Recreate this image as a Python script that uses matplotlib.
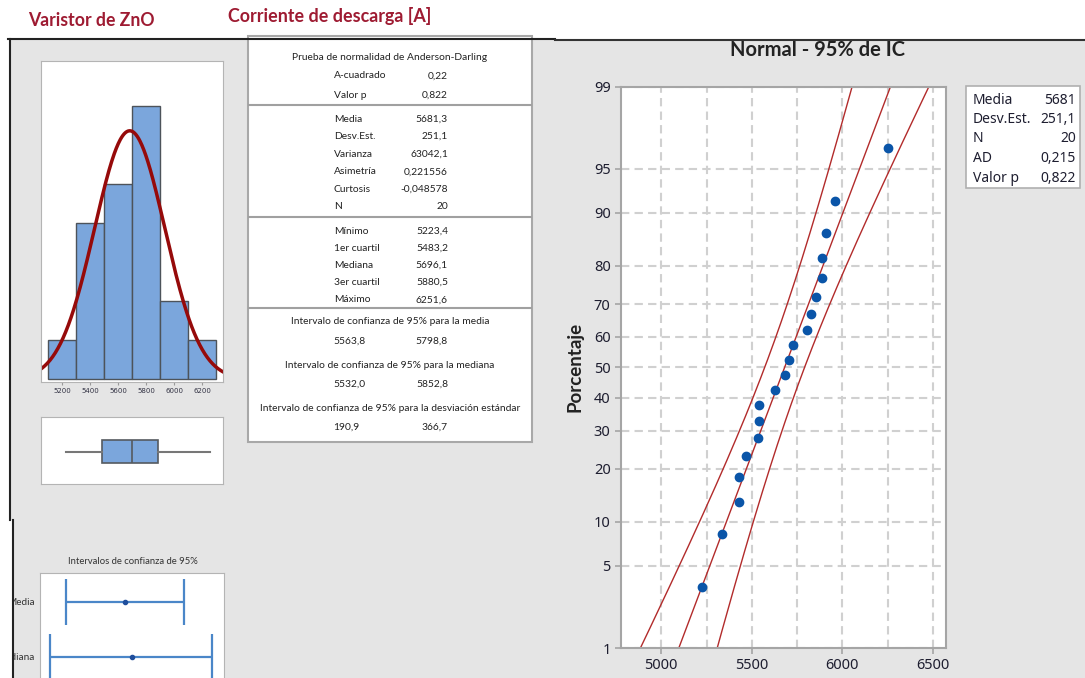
import numpy as np
import matplotlib
matplotlib.use("Agg")
import matplotlib.pyplot as plt
from matplotlib.patches import Rectangle
from matplotlib.lines import Line2D
from statistics import NormalDist

# ---------------- data ----------------
current = [5223.4, 5333, 5430, 5430, 5466, 5535, 5539, 5539, 5628, 5686,
           5706.2, 5727, 5805, 5826, 5856, 5888, 5888.7, 5908, 5960, 6251.6]
mean_val = 5681.3
sd_val = 251.1
bin_edges = [5100, 5300, 5500, 5700, 5900, 6100, 6300]
hist_ticks = [5200, 5400, 5600, 5800, 6000, 6200]
box_stats = dict(whislo=5223.4, q1=5483.2, med=5696.1, q3=5880.5, whishi=6251.6)
ci_labels = ["Media", "Mediana"]
ci_center = [5681.3, 5696.1]
ci_low = [5563.8, 5532.0]
ci_high = [5798.8, 5852.8]
prob_yticks = [1, 5, 10, 20, 30, 40, 50, 60, 70, 80, 90, 95, 99]
prob_xticks = [5000, 5500, 6000, 6500]
prob_xgrid = [5250, 5750, 6250]

ad_rows = [("A-cuadrado", "0,22"), ("Valor p", "0,822")]
desc_rows = [("Media", "5681,3"), ("Desv.Est.", "251,1"), ("Varianza", "63042,1"),
             ("Asimetría", "0,221556"), ("Curtosis", "-0,048578"), ("N", "20")]
quart_rows = [("Mínimo", "5223,4"), ("1er cuartil", "5483,2"), ("Mediana", "5696,1"),
              ("3er cuartil", "5880,5"), ("Máximo", "6251,6")]
ci_rows = [("Intervalo de confianza de 95% para la media", "5563,8", "5798,8"),
           ("Intervalo de confianza de 95% para la mediana", "5532,0", "5852,8"),
           ("Intervalo de confianza de 95% para la desviación estándar", "190,9", "366,7")]
legend_rows = [("Media", "5681"), ("Desv.Est.", "251,1"), ("N", "20"),
               ("AD", "0,215"), ("Valor p", "0,822")]

# ---------------- figure ----------------
W, H = 1085, 678
fig = plt.figure(figsize=(W / 100, H / 100), dpi=100)

def fx(x):
    return x / W

def fy(y):
    return 1 - y / H

def axes_px(x0, y0, x1, y1):
    return fig.add_axes([x0 / W, 1 - y1 / H, (x1 - x0) / W, (y1 - y0) / H])

GREY = "#e5e5e5"
RED_T = "#9e1b32"
TXT = "#222222"
SANS = ["Lato", "DejaVu Sans"]
NOTO = ["Noto Sans", "DejaVu Sans"]

# background panels
fig.add_artist(Rectangle((fx(10), 0), 1 - fx(10), fy(38.5), transform=fig.transFigure,
                         facecolor=GREY, edgecolor="none", zorder=-5))
fig.add_artist(Line2D([fx(8), fx(555)], [fy(38.5)] * 2, transform=fig.transFigure,
                      color="#222222", lw=1.5, zorder=11))
fig.add_artist(Line2D([fx(555), 1], [fy(40)] * 2, transform=fig.transFigure,
                      color="#333333", lw=1.5, zorder=11))
fig.add_artist(Line2D([fx(10)] * 2, [fy(38.5), fy(520)], transform=fig.transFigure,
                      color="#222222", lw=1.5, zorder=11))
fig.add_artist(Rectangle((0, 0), fx(12), fy(520), transform=fig.transFigure,
                         facecolor="white", edgecolor="none", zorder=10))
fig.add_artist(Line2D([fx(12.5)] * 2, [fy(520), 0], transform=fig.transFigure,
                      color="#222222", lw=1.5, zorder=11))

# titles
fig.text(fx(28), fy(21), "Varistor de ZnO", color=RED_T, fontsize=12.7, fontweight="bold",
         family=SANS, va="center", ha="left")
fig.text(fx(228), fy(16), "Corriente de descarga [A]", color=RED_T, fontsize=12.9,
         fontweight="bold", family=SANS, va="center", ha="left")

# ---------------- histogram ----------------
axh = axes_px(41, 61, 223, 382)
axh.hist(current, bins=bin_edges, color="#7ba6dc", edgecolor="#4d535a", linewidth=1.0)
xx = np.linspace(5000, 6400, 300)
pdf = [NormalDist(mean_val, sd_val).pdf(v) for v in xx]
axh.plot(xx, np.array(pdf) * len(current) * 200, color="#960a0a", lw=2.5)
axh.set_xlim(5048, 6347)
axh.set_ylim(-0.07, 8.14)
axh.set_xticks(hist_ticks)
axh.set_yticks([])
axh.tick_params(axis="x", labelsize=5, length=2, pad=2, color="#999999", labelcolor="#333344")
for s in axh.spines.values():
    s.set_color("#b4b4b4")

# ---------------- boxplot ----------------
axb = axes_px(41, 417, 223, 484)
st = dict(box_stats)
st["fliers"] = []
axb.bxp([st], positions=[0.48], widths=0.34, orientation="horizontal", patch_artist=True,
        showfliers=False,
        boxprops=dict(facecolor="#7ba6dc", edgecolor="#555a60", linewidth=1.2),
        medianprops=dict(color="#555a60", linewidth=1.2),
        whiskerprops=dict(color="#777777", linewidth=1.5),
        capprops=dict(linewidth=0))
axb.set_xlim(5048, 6347)
axb.set_ylim(0, 1)
axb.set_xticks([])
axb.set_yticks([])
for s in axb.spines.values():
    s.set_color("#b4b4b4")

# ---------------- CI panel ----------------
fig.text(fx(133), fy(561), "Intervalos de confianza de 95%", fontsize=6.8, family=SANS,
         color="#333333", ha="center", va="center")
axc = axes_px(40, 573, 224, 700)
rows = np.arange(len(ci_labels))
c = np.array(ci_center)
axc.errorbar(c, rows, xerr=[c - np.array(ci_low), np.array(ci_high) - c], fmt="o",
             ms=3, color="#1f4e9c", ecolor="#4a86c8", elinewidth=1.6, capsize=16.9,
             capthick=1.6)
axc.set_xlim(5512.9, 5877.5)
axc.set_ylim(1.787, -0.522)
axc.set_xticks([])
axc.set_yticks(rows)
axc.set_yticklabels(ci_labels, family=SANS, fontsize=7.2, color="#333333")
axc.tick_params(axis="y", length=0, pad=4)
for s in axc.spines.values():
    s.set_color("#b4b4b4")

# ---------------- statistics table ----------------
fig.add_artist(Rectangle((fx(248), fy(442)), fx(532) - fx(248), fy(36) - fy(442),
                         transform=fig.transFigure, facecolor="white", edgecolor="#a8a8a8",
                         lw=1.5, zorder=1))
for ysep in (105, 217, 308):
    fig.add_artist(Line2D([fx(249), fx(531)], [fy(ysep)] * 2, transform=fig.transFigure,
                          color="#a0a0a0", lw=1.5, zorder=2))

tk = dict(fontsize=7.4, family=SANS, color=TXT, va="center", zorder=3)
fig.text(fx(390), fy(57), "Prueba de normalidad de Anderson-Darling", ha="center", **tk)
y = 76
for lab, val in ad_rows:
    fig.text(fx(334), fy(y), lab, ha="left", **tk)
    fig.text(fx(448), fy(y), val, ha="right", **tk)
    y += 19
y = 119
for lab, val in desc_rows:
    fig.text(fx(334), fy(y), lab, ha="left", **tk)
    fig.text(fx(448), fy(y), val, ha="right", **tk)
    y += 17.6
y = 231
for lab, val in quart_rows:
    fig.text(fx(334), fy(y), lab, ha="left", **tk)
    fig.text(fx(448), fy(y), val, ha="right", **tk)
    y += 17.2
y = 322
for lab, lo, hi in ci_rows:
    fig.text(fx(390), fy(y), lab, ha="center", **tk)
    fig.text(fx(333), fy(y + 19.5), lo, ha="left", **tk)
    fig.text(fx(448), fy(y + 19.5), hi, ha="right", **tk)
    y += 43

# ---------------- normal probability plot ----------------
nd = NormalDist()
_inv_cdf = np.vectorize(nd.inv_cdf, otypes=[float])
_cdf = np.vectorize(nd.cdf, otypes=[float])

def fwd(p):
    p = np.clip(np.asarray(p, dtype=float) / 100.0, 1e-9, 1 - 1e-9)
    return _inv_cdf(p)

def inv(z):
    return _cdf(np.asarray(z, dtype=float)) * 100.0

axp = axes_px(621, 86.7, 946, 648)
axp.set_yscale("function", functions=(fwd, inv))
n = len(current)
xs = np.sort(current)
pp = [(i - 0.3) / (n + 0.4) * 100 for i in range(1, n + 1)]

zg = np.linspace(-2.6, 2.6, 200)
pg = inv(zg)
fit = mean_val + zg * sd_val
half = 1.96 * sd_val * np.sqrt(1.0 / n + zg ** 2 / (2.0 * n))
LINE = "#b22b2b"
axp.plot(fit, pg, color=LINE, lw=1.0)
axp.plot(fit - half, pg, color=LINE, lw=1.0)
axp.plot(fit + half, pg, color=LINE, lw=1.0)
axp.plot(xs, pp, "o", color="#0a55a8", ms=6, zorder=5)

axp.set_xlim(4778, 6572)
axp.set_ylim(1, 99)
axp.set_yticks(prob_yticks)
axp.set_yticklabels([str(t) for t in prob_yticks])
axp.yaxis.set_minor_locator(matplotlib.ticker.NullLocator())
axp.set_xticks(prob_xticks)
axp.set_xticks(prob_xgrid, minor=True)
axp.grid(True, which="major", axis="y", color="#d0d0d0", lw=1.5, linestyle=(0, (4, 2.5)))
axp.grid(True, which="both", axis="x", color="#d0d0d0", lw=1.5, linestyle=(0, (4, 2.5)))
axp.set_axisbelow(True)
axp.tick_params(axis="both", which="major", length=4, width=1.2, color="#a5a5a5",
                labelsize=10.5, labelcolor="#1e1e30")
axp.tick_params(axis="x", which="minor", length=0)
for lab in axp.get_xticklabels() + axp.get_yticklabels():
    lab.set_family(NOTO)
for s in axp.spines.values():
    s.set_color("#a5a5a5")
    s.set_linewidth(1.5)

fig.text(fx(818), fy(50), "Normal - 95% de IC", fontsize=14.5, fontweight="bold",
         family=SANS, color="#222222", ha="center", va="center")
fig.text(fx(575), fy(367), "Porcentaje", fontsize=13.5, fontweight="bold",
         family=SANS, color="#222222", ha="center", va="center", rotation=90)

# legend box
fig.add_artist(Rectangle((fx(966), fy(188)), fx(1080) - fx(966), fy(86) - fy(188),
                         transform=fig.transFigure, facecolor="white", edgecolor="#b0b0b0",
                         lw=1.2, zorder=1))
y = 100
for lab, val in legend_rows:
    fig.text(fx(973), fy(y), lab, fontsize=10, family=NOTO, color="#1e1e30",
             ha="left", va="center", zorder=3)
    fig.text(fx(1076), fy(y), val, fontsize=10, family=NOTO, color="#1e1e30",
             ha="right", va="center", zorder=3)
    y += 19.5

fig.savefig("out.png", dpi=100)
